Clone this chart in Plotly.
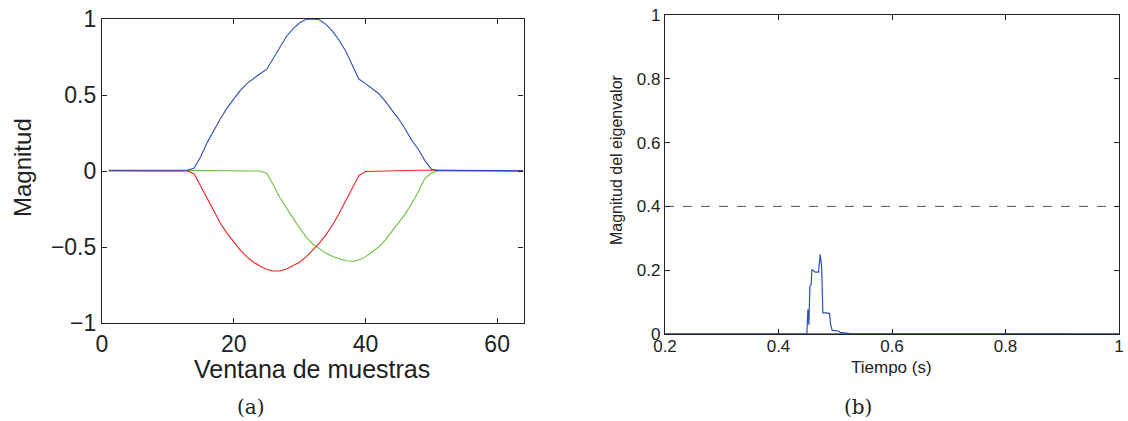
import plotly.graph_objects as go

# ---- Panel (a) data: sample window index 1..64 ----
samples = list(range(1, 65))
blue_vals = [0.005, 0.005, 0.005, 0.005, 0.005, 0.005, 0.005, 0.003, 0.002, 0.002, 0.002, 0.003,
             0.005, 0.02, 0.095, 0.19, 0.27, 0.345, 0.415, 0.475, 0.53, 0.575, 0.61, 0.64,
             0.668, 0.74, 0.82, 0.885, 0.935, 0.975, 0.998, 1.0, 0.995, 0.965, 0.92, 0.86,
             0.79, 0.70, 0.605, 0.575, 0.545, 0.51, 0.46, 0.405, 0.345, 0.28, 0.205, 0.145,
             0.07, 0.012, 0.004, 0.004, 0.004, 0.004, 0.004, 0.004, 0.004, 0.004, 0.004, 0.004,
             0.004, 0.003, 0.002, 0.002]
red_vals = [0.003, 0.003, 0.003, 0.003, 0.003, 0.003, 0.003, 0.003, 0.002, 0.002, 0.002, 0.002,
            0.0, -0.02, -0.1, -0.18, -0.27, -0.345, -0.41, -0.465, -0.52, -0.565, -0.6, -0.625,
            -0.648, -0.658, -0.658, -0.645, -0.625, -0.6, -0.565, -0.52, -0.475, -0.42, -0.355, -0.28,
            -0.2, -0.12, -0.03, -0.003, -0.002, 0.0, 0.004, 0.005, 0.005, 0.005, 0.005, 0.005,
            0.005, 0.005, 0.005, 0.005, 0.005, 0.005, 0.005, 0.005, 0.005, 0.005, 0.005, 0.005,
            0.003, 0.001, 0.0, 0.0]
green_vals = [-0.001, -0.001, -0.001, -0.001, -0.001, -0.001, -0.001, -0.001, -0.001, -0.001, -0.001, -0.001,
              0.004, 0.004, 0.004, 0.004, 0.004, 0.004, 0.004, 0.004, 0.004, 0.002, 0.0, 0.0,
              -0.015, -0.09, -0.175, -0.245, -0.31, -0.375, -0.435, -0.48, -0.51, -0.54, -0.562, -0.578,
              -0.59, -0.594, -0.585, -0.565, -0.535, -0.5, -0.455, -0.4, -0.345, -0.285, -0.215, -0.14,
              -0.05, -0.013, 0.0, 0.0, 0.0, 0.0, 0.0, 0.0, 0.0, 0.0, 0.0, 0.0,
              0.0, 0.0, 0.0, 0.0]

# ---- Panel (b) data: eigenvalue magnitude vs time ----
time_s = [0.2, 0.450, 0.4518, 0.4535, 0.4553, 0.4576, 0.4588, 0.4617, 0.4647, 0.4706, 0.4735,
          0.4759, 0.4782, 0.4853, 0.4900, 0.4918, 0.4947, 0.5059, 0.5088, 0.5265, 1.0]
eig_vals = [0.0, 0.0, 0.0765, 0.029, 0.15, 0.155, 0.202, 0.197, 0.194, 0.194, 0.2495,
            0.213, 0.066, 0.066, 0.064, 0.029, 0.0115, 0.0094, 0.005, 0.001, 0.0]
base_time = [0.2, 1.0]
base_vals = [0.0, 0.0]
threshold_time = [0.2, 1.0]
threshold_vals = [0.4, 0.4]

xa_ticks = [0, 20, 40, 60]
ya_ticks = [-1, -0.5, 0, 0.5, 1]
ya_labels = ["\u22121", "\u22120.5", "0", "0.5", "1"]
xb_ticks = [0.2, 0.4, 0.6, 0.8, 1]
xb_labels = ["0.2", "0.4", "0.6", "0.8", "1"]
yb_ticks = [0, 0.2, 0.4, 0.6, 0.8, 1]
yb_labels = ["0", "0.2", "0.4", "0.6", "0.8", "1"]

BLUE = "#2f4fb3"
RED = "#ee2222"
GREEN = "#6cc040"
W, H = 1128, 421

fig = go.Figure()
fig.add_trace(go.Scatter(x=samples, y=green_vals, mode="lines", line=dict(color=GREEN, width=1.1),
                         xaxis="x", yaxis="y", showlegend=False))
fig.add_trace(go.Scatter(x=samples, y=red_vals, mode="lines", line=dict(color=RED, width=1.1),
                         xaxis="x", yaxis="y", showlegend=False))
fig.add_trace(go.Scatter(x=samples, y=blue_vals, mode="lines", line=dict(color=BLUE, width=1.1),
                         xaxis="x", yaxis="y", showlegend=False))

fig.add_trace(go.Scatter(x=threshold_time, y=threshold_vals, mode="lines",
                         line=dict(color="#555555", width=1, dash="dash"),
                         xaxis="x2", yaxis="y2", showlegend=False))
fig.add_trace(go.Scatter(x=base_time, y=base_vals, mode="lines", line=dict(color="black", width=1.2),
                         xaxis="x2", yaxis="y2", showlegend=False))
fig.add_trace(go.Scatter(x=time_s, y=eig_vals, mode="lines", line=dict(color=BLUE, width=1.2),
                         xaxis="x2", yaxis="y2", showlegend=False))

FAM = "Liberation Sans, Arial, sans-serif"
INK = "#222222"
font_a = dict(family=FAM, size=23, color=INK)
font_b = dict(family=FAM, size=17, color=INK)

axis_common = dict(showgrid=False, zeroline=False, showline=True, linecolor=INK, linewidth=1.2,
                   mirror="ticks", ticks="inside", ticklen=5, tickcolor=INK, automargin=False)

fig.update_layout(
    width=W, height=H,
    margin=dict(l=0, r=0, t=0, b=0),
    paper_bgcolor="white", plot_bgcolor="white",
    xaxis=dict(domain=[102 / W, 523.5 / W], range=[0, 64], tickvals=xa_ticks,
               tickfont=font_a, anchor="y", **axis_common),
    yaxis=dict(domain=[1 - 323 / H, 1 - 19 / H], range=[-1, 1], tickvals=ya_ticks, ticktext=ya_labels,
               tickfont=font_a, anchor="x", **axis_common),
    xaxis2=dict(domain=[665 / W, 1119 / W], range=[0.2, 1], tickvals=xb_ticks, ticktext=xb_labels,
                tickfont=font_b, anchor="y2", ticklabelstandoff=-4, **axis_common),
    yaxis2=dict(domain=[1 - 334 / H, 1 - 15 / H], range=[0, 1], tickvals=yb_ticks, ticktext=yb_labels,
                tickfont=font_b, anchor="x2", **axis_common),
)

annos = [
    dict(text="Ventana de muestras", x=312 / W, y=1 - 369 / H, font=dict(family=FAM, size=25, color=INK)),
    dict(text="Magnitud", x=22 / W, y=1 - 168 / H, textangle=-90, font=dict(family=FAM, size=24, color=INK)),
    dict(text="Tiempo (s)", x=891 / W, y=1 - 367 / H, font=dict(family=FAM, size=17, color=INK)),
    dict(text="Magnitud del eigenvalor", x=617 / W, y=1 - 160 / H, textangle=-90,
         font=dict(family=FAM, size=16, color=INK)),
    dict(text="(a)", x=251 / W, y=1 - 407 / H, font=dict(family="DejaVu Serif, Liberation Serif, serif", size=20, color=INK)),
    dict(text="(b)", x=858 / W, y=1 - 407 / H, font=dict(family="DejaVu Serif, Liberation Serif, serif", size=20, color=INK)),
]
for a in annos:
    fig.add_annotation(xref="paper", yref="paper", showarrow=False, xanchor="center", yanchor="middle", **a)

fig.write_html("out.html", config={"displayModeBar": False},
               post_script="document.body.style.margin='0';document.body.style.padding='0';"
                           "document.body.style.overflow='hidden';")
